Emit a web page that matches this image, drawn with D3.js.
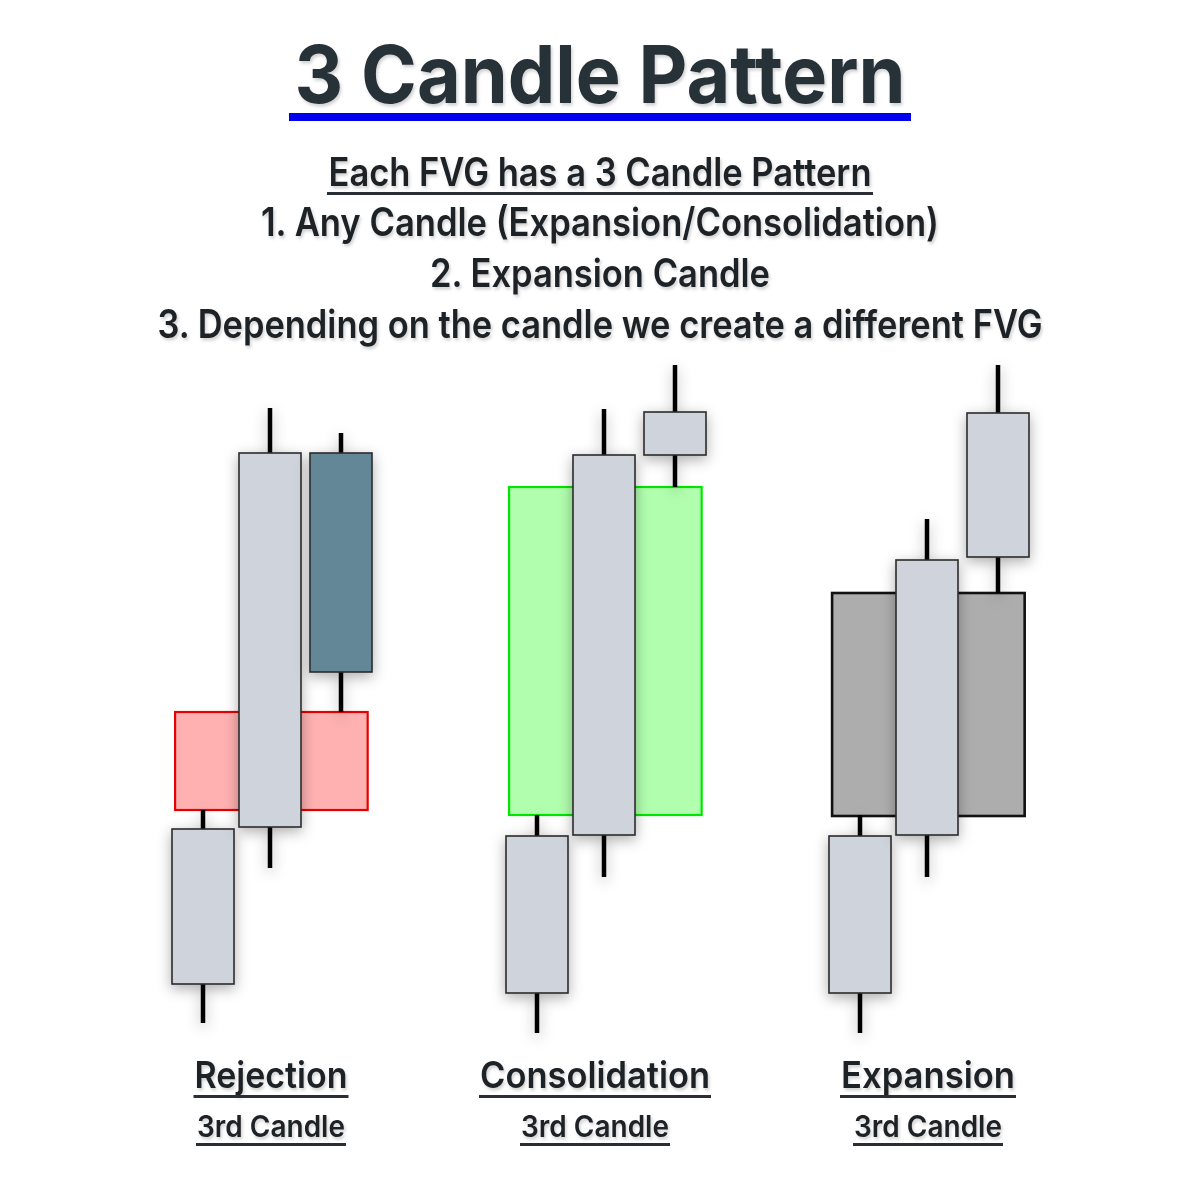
<!DOCTYPE html>
<html>
<head>
<meta charset="utf-8">
<script src="https://cdn.jsdelivr.net/npm/d3@7"></script>
<style>
  html, body { margin: 0; padding: 0; background: #ffffff; }
  svg { display: block; }
  text { font-family: Inter, "Noto Sans", "DejaVu Sans", sans-serif; }
</style>
</head>
<body>
<svg id="chart" width="1200" height="1200"></svg>
<script>
// ---------------- DATA ----------------
const titleText = "3 Candle Pattern";
const subtitleLines = [
  "Each FVG has a 3 Candle Pattern",
  "1. Any Candle (Expansion/Consolidation)",
  "2. Expansion Candle",
  "3. Depending on the candle we create a different FVG"
];
const groups = ["Rejection", "Consolidation", "Expansion"];
const groupSubLabel = "3rd Candle";
const candleSlots = ["1st", "2nd", "3rd"];

// candle values (price units): high, top of body, bottom of body, low
const rejectionHigh   = [23.0, 63.2, 60.7];
const rejectionTop    = [21.1, 58.7, 58.7];
const rejectionBottom = [5.6, 21.3, 36.8];
const rejectionLow    = [1.7, 17.2, 32.8];

const consolidationHigh   = [22.5, 63.1, 67.5];
const consolidationTop    = [20.4, 58.5, 62.8];
const consolidationBottom = [4.7, 20.5, 58.5];
const consolidationLow    = [0.7, 16.3, 55.3];

const expansionHigh   = [22.5, 52.1, 67.5];
const expansionTop    = [20.4, 48.0, 62.7];
const expansionBottom = [4.7, 20.5, 48.3];
const expansionLow    = [0.7, 16.3, 44.7];

// FVG zones [upper, lower]
const fvgUpper = [32.8, 55.3, 44.7];
const fvgLower = [23.0, 22.5, 22.4];

// candle body kinds (styling keys)
const rejectionKinds = ["plain", "plain", "bear"];
const consolidationKinds = ["plain", "plain", "plain"];
const expansionKinds = ["plain", "plain", "plain"];
const fvgKinds = ["red", "green", "gray"];

// ---------------- BUILD ----------------
const svg = d3.select("#chart");
const W = 1200;

const seriesByGroup = [
  {high: rejectionHigh, top: rejectionTop, bottom: rejectionBottom, low: rejectionLow, kinds: rejectionKinds},
  {high: consolidationHigh, top: consolidationTop, bottom: consolidationBottom, low: consolidationLow, kinds: consolidationKinds},
  {high: expansionHigh, top: expansionTop, bottom: expansionBottom, low: expansionLow, kinds: expansionKinds}
];

const y = d3.scaleLinear().domain([0, 68]).range([1040, 360]);
const xGroup = d3.scaleOrdinal().domain(groups).range([270, 604, 927]);
const xInner = d3.scaleOrdinal().domain(candleSlots).range([-67, 0, 71]);
const candleW = 62;

const bodyFill = {plain: "#cfd4dc", bear: "#648797"};
const fvgStyle = {
  red:   {fill: "#ffb1b1", stroke: "#e60000", sw: 2.2},
  green: {fill: "#b1ffae", stroke: "#00e600", sw: 2.2},
  gray:  {fill: "#adadad", stroke: "#111111", sw: 2.6}
};

const defs = svg.append("defs");
const sh = defs.append("filter").attr("id", "shadow")
  .attr("x", "-60%").attr("y", "-20%").attr("width", "220%").attr("height", "140%");
sh.append("feDropShadow").attr("dx", 0).attr("dy", 4).attr("stdDeviation", 7)
  .attr("flood-color", "#000").attr("flood-opacity", 0.32);
const tsh = defs.append("filter").attr("id", "tshadow")
  .attr("x", "-5%").attr("y", "-20%").attr("width", "110%").attr("height", "150%");
tsh.append("feDropShadow").attr("dx", 1.5).attr("dy", 2.5).attr("stdDeviation", 1.5)
  .attr("flood-color", "#000").attr("flood-opacity", 0.18);

// Title
svg.append("text")
  .attr("x", W / 2).attr("y", 103)
  .attr("text-anchor", "middle")
  .attr("font-size", 80).attr("font-weight", 700)
  .attr("fill", "#283139")
  .attr("filter", "url(#tshadow)")
  .attr("textLength", 611).attr("lengthAdjust", "spacingAndGlyphs")
  .text(titleText);
svg.append("rect").attr("x", 289).attr("y", 113).attr("width", 622).attr("height", 8).attr("fill", "#0000ee");

// Subtitle lines
const subW = [543, 678, 340, 885];
const subY = [186, 236, 287, 338];
subtitleLines.forEach((t, i) => {
  svg.append("text")
    .attr("x", W / 2).attr("y", subY[i])
    .attr("text-anchor", "middle")
    .attr("font-size", 39).attr("font-weight", 600)
    .attr("fill", "#1f2328")
    .attr("filter", "url(#tshadow)")
    .attr("textLength", subW[i]).attr("lengthAdjust", "spacingAndGlyphs")
    .text(t);
});
svg.append("rect").attr("x", 327).attr("y", 192).attr("width", 546).attr("height", 3).attr("fill", "#2a2f36");

// Charts
groups.forEach((g, gi) => {
  const s = seriesByGroup[gi];
  const cx = slot => xGroup(g) + xInner(slot);
  const gEl = svg.append("g");

  // FVG zone
  const st = fvgStyle[fvgKinds[gi]];
  const x0 = cx(candleSlots[0]) - candleW * 0.45;
  const x1 = cx(candleSlots[2]) + candleW * 0.43;
  gEl.append("rect")
    .attr("x", x0).attr("y", y(fvgUpper[gi]))
    .attr("width", x1 - x0).attr("height", y(fvgLower[gi]) - y(fvgUpper[gi]))
    .attr("fill", st.fill).attr("stroke", st.stroke).attr("stroke-width", st.sw);

  candleSlots.forEach((slot, ci) => {
    const c = gEl.append("g").attr("filter", "url(#shadow)");
    c.append("line")
      .attr("x1", cx(slot)).attr("x2", cx(slot))
      .attr("y1", y(s.high[ci])).attr("y2", y(s.low[ci]))
      .attr("stroke", "#000").attr("stroke-width", 4.5);
    c.append("rect")
      .attr("x", cx(slot) - candleW / 2).attr("y", y(s.top[ci]))
      .attr("width", candleW).attr("height", y(s.bottom[ci]) - y(s.top[ci]))
      .attr("fill", bodyFill[s.kinds[ci]]).attr("stroke", "#2b2b2b").attr("stroke-width", 1.6);
  });
});

// Bottom labels
const labW = [153, 230, 174];
const labCx = [271, 595, 928];
groups.forEach((g, gi) => {
  svg.append("text")
    .attr("x", labCx[gi]).attr("y", 1088)
    .attr("text-anchor", "middle")
    .attr("font-size", 37).attr("font-weight", 600).attr("fill", "#1f2328")
    .attr("filter", "url(#tshadow)")
    .attr("textLength", labW[gi]).attr("lengthAdjust", "spacingAndGlyphs")
    .text(g);
  svg.append("rect").attr("x", labCx[gi] - labW[gi] / 2 - 1).attr("y", 1095)
    .attr("width", labW[gi] + 2).attr("height", 3).attr("fill", "#2a2f36");
  svg.append("text")
    .attr("x", labCx[gi]).attr("y", 1137)
    .attr("text-anchor", "middle")
    .attr("font-size", 30).attr("font-weight", 600).attr("fill", "#1f2328")
    .attr("filter", "url(#tshadow)")
    .attr("textLength", 148).attr("lengthAdjust", "spacingAndGlyphs")
    .text(groupSubLabel);
  svg.append("rect").attr("x", labCx[gi] - 75).attr("y", 1143)
    .attr("width", 150).attr("height", 3).attr("fill", "#2a2f36");
});
</script>
</body>
</html>
